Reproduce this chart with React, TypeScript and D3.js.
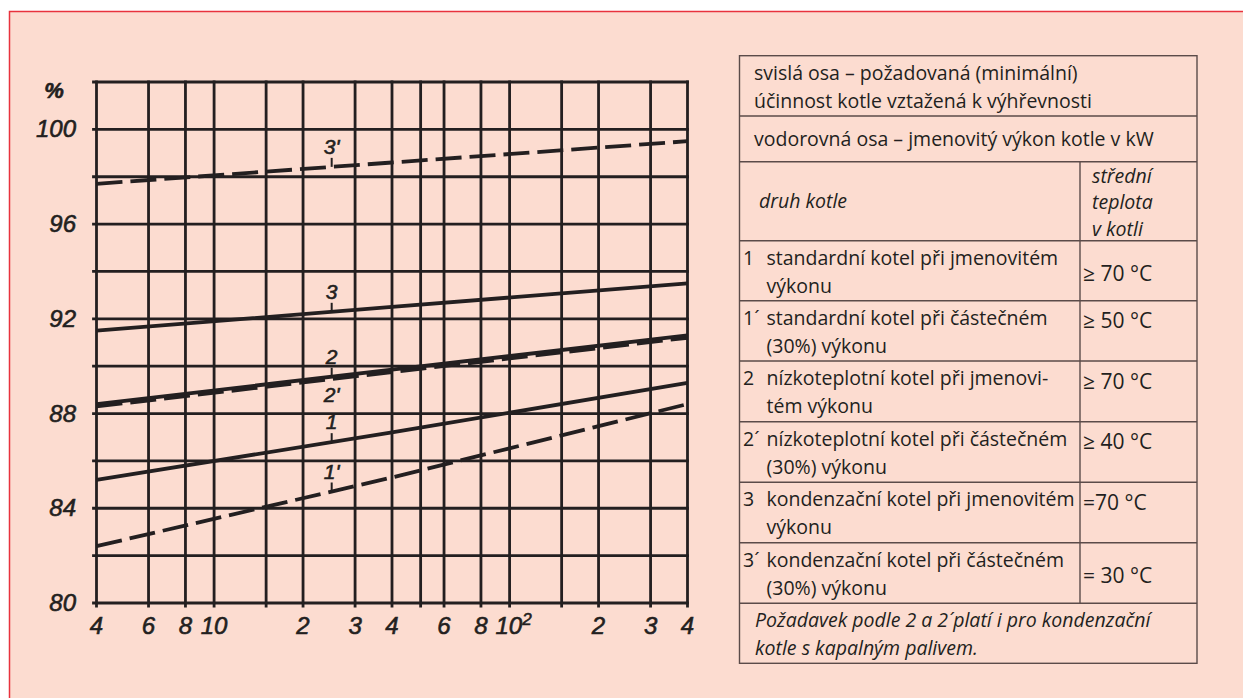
import React from "react";
import * as d3 from "d3";

const WIDTH = 1243;
const HEIGHT = 698;

// Rated boiler output in kW (logarithmic horizontal axis)
const outputKW = [4, 40, 400];

// Required minimum efficiency in % for each boiler type
const eff1 = [85.2, 87.2, 89.3];
const eff1p = [82.4, 85.3, 88.4];
const eff2 = [88.4, 89.85, 91.3];
const eff2p = [88.3, 89.75, 91.2];
const eff3 = [91.5, 92.5, 93.5];
const eff3p = [97.7, 98.6, 99.5];

const curveLabelKW = 25;

// Axis grid and tick labels
const xGridKW = [4, 6, 8, 10, 15, 20, 30, 40, 50, 60, 80, 100, 150, 200, 300, 400];
const xTickKW = [4, 6, 8, 10, 20, 30, 40, 60, 80, 100, 200, 300, 400];
const xTickLabels = ["4", "6", "8", "10", "2", "3", "4", "6", "8", "10^2", "2", "3", "4"];
const yGrid = [80, 82, 84, 86, 88, 90, 92, 94, 96, 98, 100, 102];
const yTickValues = [80, 84, 88, 92, 96, 100];
const yTickLabels = ["80", "84", "88", "92", "96", "100"];
const yUnit = "%";

// Legend table
const axisNotes = [
  ["svislá osa – požadovaná (minimální)", "účinnost kotle vztažená k výhřevnosti"],
  ["vodorovná osa – jmenovitý výkon kotle v kW"],
];
const headerType = "druh kotle";
const headerTemp = ["střední", "teplota", "v kotli"];
const boilerIds = ["1", "1´", "2", "2´", "3", "3´"];
const boilerTypes = [
  ["standardní kotel při jmenovitém", "výkonu"],
  ["standardní kotel při částečném", "(30%) výkonu"],
  ["nízkoteplotní kotel při jmenovi-", "tém výkonu"],
  ["nízkoteplotní kotel při částečném", "(30%) výkonu"],
  ["kondenzační kotel při jmenovitém", "výkonu"],
  ["kondenzační kotel při částečném", "(30%) výkonu"],
];
const boilerTemps = ["≥ 70 °C", "≥ 50 °C", "≥ 70 °C", "≥ 40 °C", "=70 °C", "= 30 °C"];
const footnote = ["Požadavek podle 2 a 2´ platí i pro kondenzační", "kotle s kapalným palivem."];

const series = [
  { id: "1", values: eff1, dashed: false, labelBelow: false },
  { id: "1'", values: eff1p, dashed: true, labelBelow: false },
  { id: "2'", values: eff2p, dashed: true, labelBelow: true },
  { id: "2", values: eff2, dashed: false, labelBelow: false },
  { id: "3", values: eff3, dashed: false, labelBelow: false },
  { id: "3'", values: eff3p, dashed: true, labelBelow: false },
];

const INK = "#231f20";
const PAPER = "#fcdcd0";
const FRAME = "#e8333d";
const TABLE_LINE = "#5b4b49";
const PLOT_FONT = "'Liberation Sans', Arial, sans-serif";
const TABLE_FONT = "'Open Sans', 'Noto Sans', sans-serif";

const plot = { left: 96.5, right: 687.5, top: 82, bottom: 603 };

const x = d3.scaleLog().domain([4, 400]).range([plot.left, plot.right]);
const y = d3.scaleLinear().domain([80, 102]).range([plot.bottom, plot.top]);

const line = d3
  .line<number>()
  .x((_, i) => x(outputKW[i]))
  .y((v) => y(v));

// Table geometry
const table = { left: 739.5, right: 1197, col: 1080, top: 55.7 };
const rowHeights = [60.3, 45.7, 79, 60, 60.3, 60.7, 60.6, 60.4, 60.6, 60];
const rowTops = rowHeights.reduce<number[]>((acc, h, i) => {
  acc.push(i === 0 ? table.top : acc[i - 1] + rowHeights[i - 1]);
  return acc;
}, []);
const tableBottom = rowTops[rowTops.length - 1] + rowHeights[rowHeights.length - 1];
const tempCentered = [true, false, false, false, false, true];

// Hand-lettered look for the plot's numerals: italic with a slightly heavier stroke
const plotText = {
  fontFamily: PLOT_FONT,
  fontStyle: "italic",
  fill: INK,
  stroke: INK,
  strokeWidth: 0.6,
} as const;

function PlotTick({ label, cx }: { label: string; cx: number }) {
  const ty = 634;
  if (label.includes("^")) {
    const [base, exp] = label.split("^");
    return (
      <text x={cx + 4} y={ty} textAnchor="middle" fontSize={24} {...plotText}>
        {base}
        <tspan dy={-9} fontSize={17}>{exp}</tspan>
      </text>
    );
  }
  return (
    <text x={cx} y={ty} textAnchor="middle" fontSize={24} {...plotText}>
      {label}
    </text>
  );
}

export default function App() {
  const tableText = { fontFamily: TABLE_FONT, fontSize: 19.5, fill: INK } as const;
  return (
    <svg
      width={WIDTH}
      height={HEIGHT}
      viewBox={`0 0 ${WIDTH} ${HEIGHT}`}
      style={{ position: "absolute", left: 0, top: 0 }}
    >
      <rect x={0} y={0} width={WIDTH} height={HEIGHT} fill="#ffffff" />
      <rect x={9.5} y={11.5} width={WIDTH + 20} height={HEIGHT + 20} fill={PAPER} stroke={FRAME} strokeWidth={1.5} />

      {/* grid */}
      <g stroke={INK} strokeWidth={2.8} strokeLinecap="square">
        {yGrid.map((v) => (
          <line key={`h${v}`} x1={plot.left - 3} x2={plot.right} y1={y(v)} y2={y(v)} />
        ))}
        {xGridKW.map((k) => (
          <line key={`v${k}`} x1={x(k)} x2={x(k)} y1={plot.top} y2={plot.bottom + 3} />
        ))}
      </g>

      {/* efficiency curves */}
      <g fill="none" stroke={INK} strokeWidth={3.8}>
        {series.map((s) => (
          <path key={s.id} d={line(s.values) ?? ""} strokeDasharray={s.dashed ? "26 8" : undefined} />
        ))}
      </g>

      {/* curve labels */}
      {series.map((s) => {
        const at = d3.scaleLog().domain(outputKW).range(s.values);
        const lx = x(curveLabelKW);
        const ly = y(at(curveLabelKW));
        return (
          <g key={`lab${s.id}`}>
            {!s.labelBelow && <line x1={lx} x2={lx} y1={ly - 9} y2={ly} stroke={INK} strokeWidth={2} />}
            <text
              x={lx}
              y={s.labelBelow ? ly + 23 : ly - 13}
              textAnchor="middle"
              fontSize={21}
              {...plotText}
            >
              {s.id}
            </text>
          </g>
        );
      })}

      {/* axis labels */}
      {yTickValues.map((v, i) => (
        <text key={`yl${v}`} x={76} y={y(v) + 8} textAnchor="end" fontSize={24} {...plotText}>
          {yTickLabels[i]}
        </text>
      ))}
      <text x={54} y={98} textAnchor="middle" fontSize={22} fontWeight="bold" {...plotText}>
        {yUnit}
      </text>
      {xTickKW.map((k, i) => (
        <PlotTick key={`xl${k}`} label={xTickLabels[i]} cx={x(k)} />
      ))}

      {/* legend table */}
      <g fill="none" stroke={TABLE_LINE} strokeWidth={1.4}>
        <rect x={table.left} y={table.top} width={table.right - table.left} height={tableBottom - table.top} />
        {rowTops.slice(1).map((t, i) => (
          <line key={`r${i}`} x1={table.left} x2={table.right} y1={t} y2={t} />
        ))}
        <line x1={table.col} x2={table.col} y1={rowTops[2]} y2={rowTops[9]} />
      </g>

      {axisNotes[0].map((t, i) => (
        <text key={`a0${i}`} x={754} y={rowTops[0] + 24.3 + i * 28} {...tableText}>
          {t}
        </text>
      ))}
      <text x={754} y={rowTops[1] + 30} {...tableText}>
        {axisNotes[1][0]}
      </text>

      <text x={759} y={rowTops[2] + 46.6} {...tableText} fontStyle="italic">
        {headerType}
      </text>
      {headerTemp.map((t, i) => (
        <text key={`ht${i}`} x={1092} y={rowTops[2] + 21 + i * 26.7} {...tableText} fontStyle="italic">
          {t}
        </text>
      ))}

      {boilerTypes.map((lines, r) => {
        const top = rowTops[3 + r];
        return (
          <g key={`b${r}`}>
            <text x={743} y={top + 24} {...tableText}>
              {boilerIds[r]}
            </text>
            {lines.map((t, i) => (
              <text key={i} x={766.5} y={top + 24 + i * 28} {...tableText}>
                {t}
              </text>
            ))}
            <text x={1083} y={top + (tempCentered[r] ? 40 : 27.5)} {...tableText} fontSize={21}>
              {boilerTemps[r]}
            </text>
          </g>
        );
      })}

      {footnote.map((t, i) => (
        <text key={`f${i}`} x={755} y={rowTops[9] + 23.5 + i * 28.3} {...tableText} fontStyle="italic">
          {t}
        </text>
      ))}
    </svg>
  );
}
